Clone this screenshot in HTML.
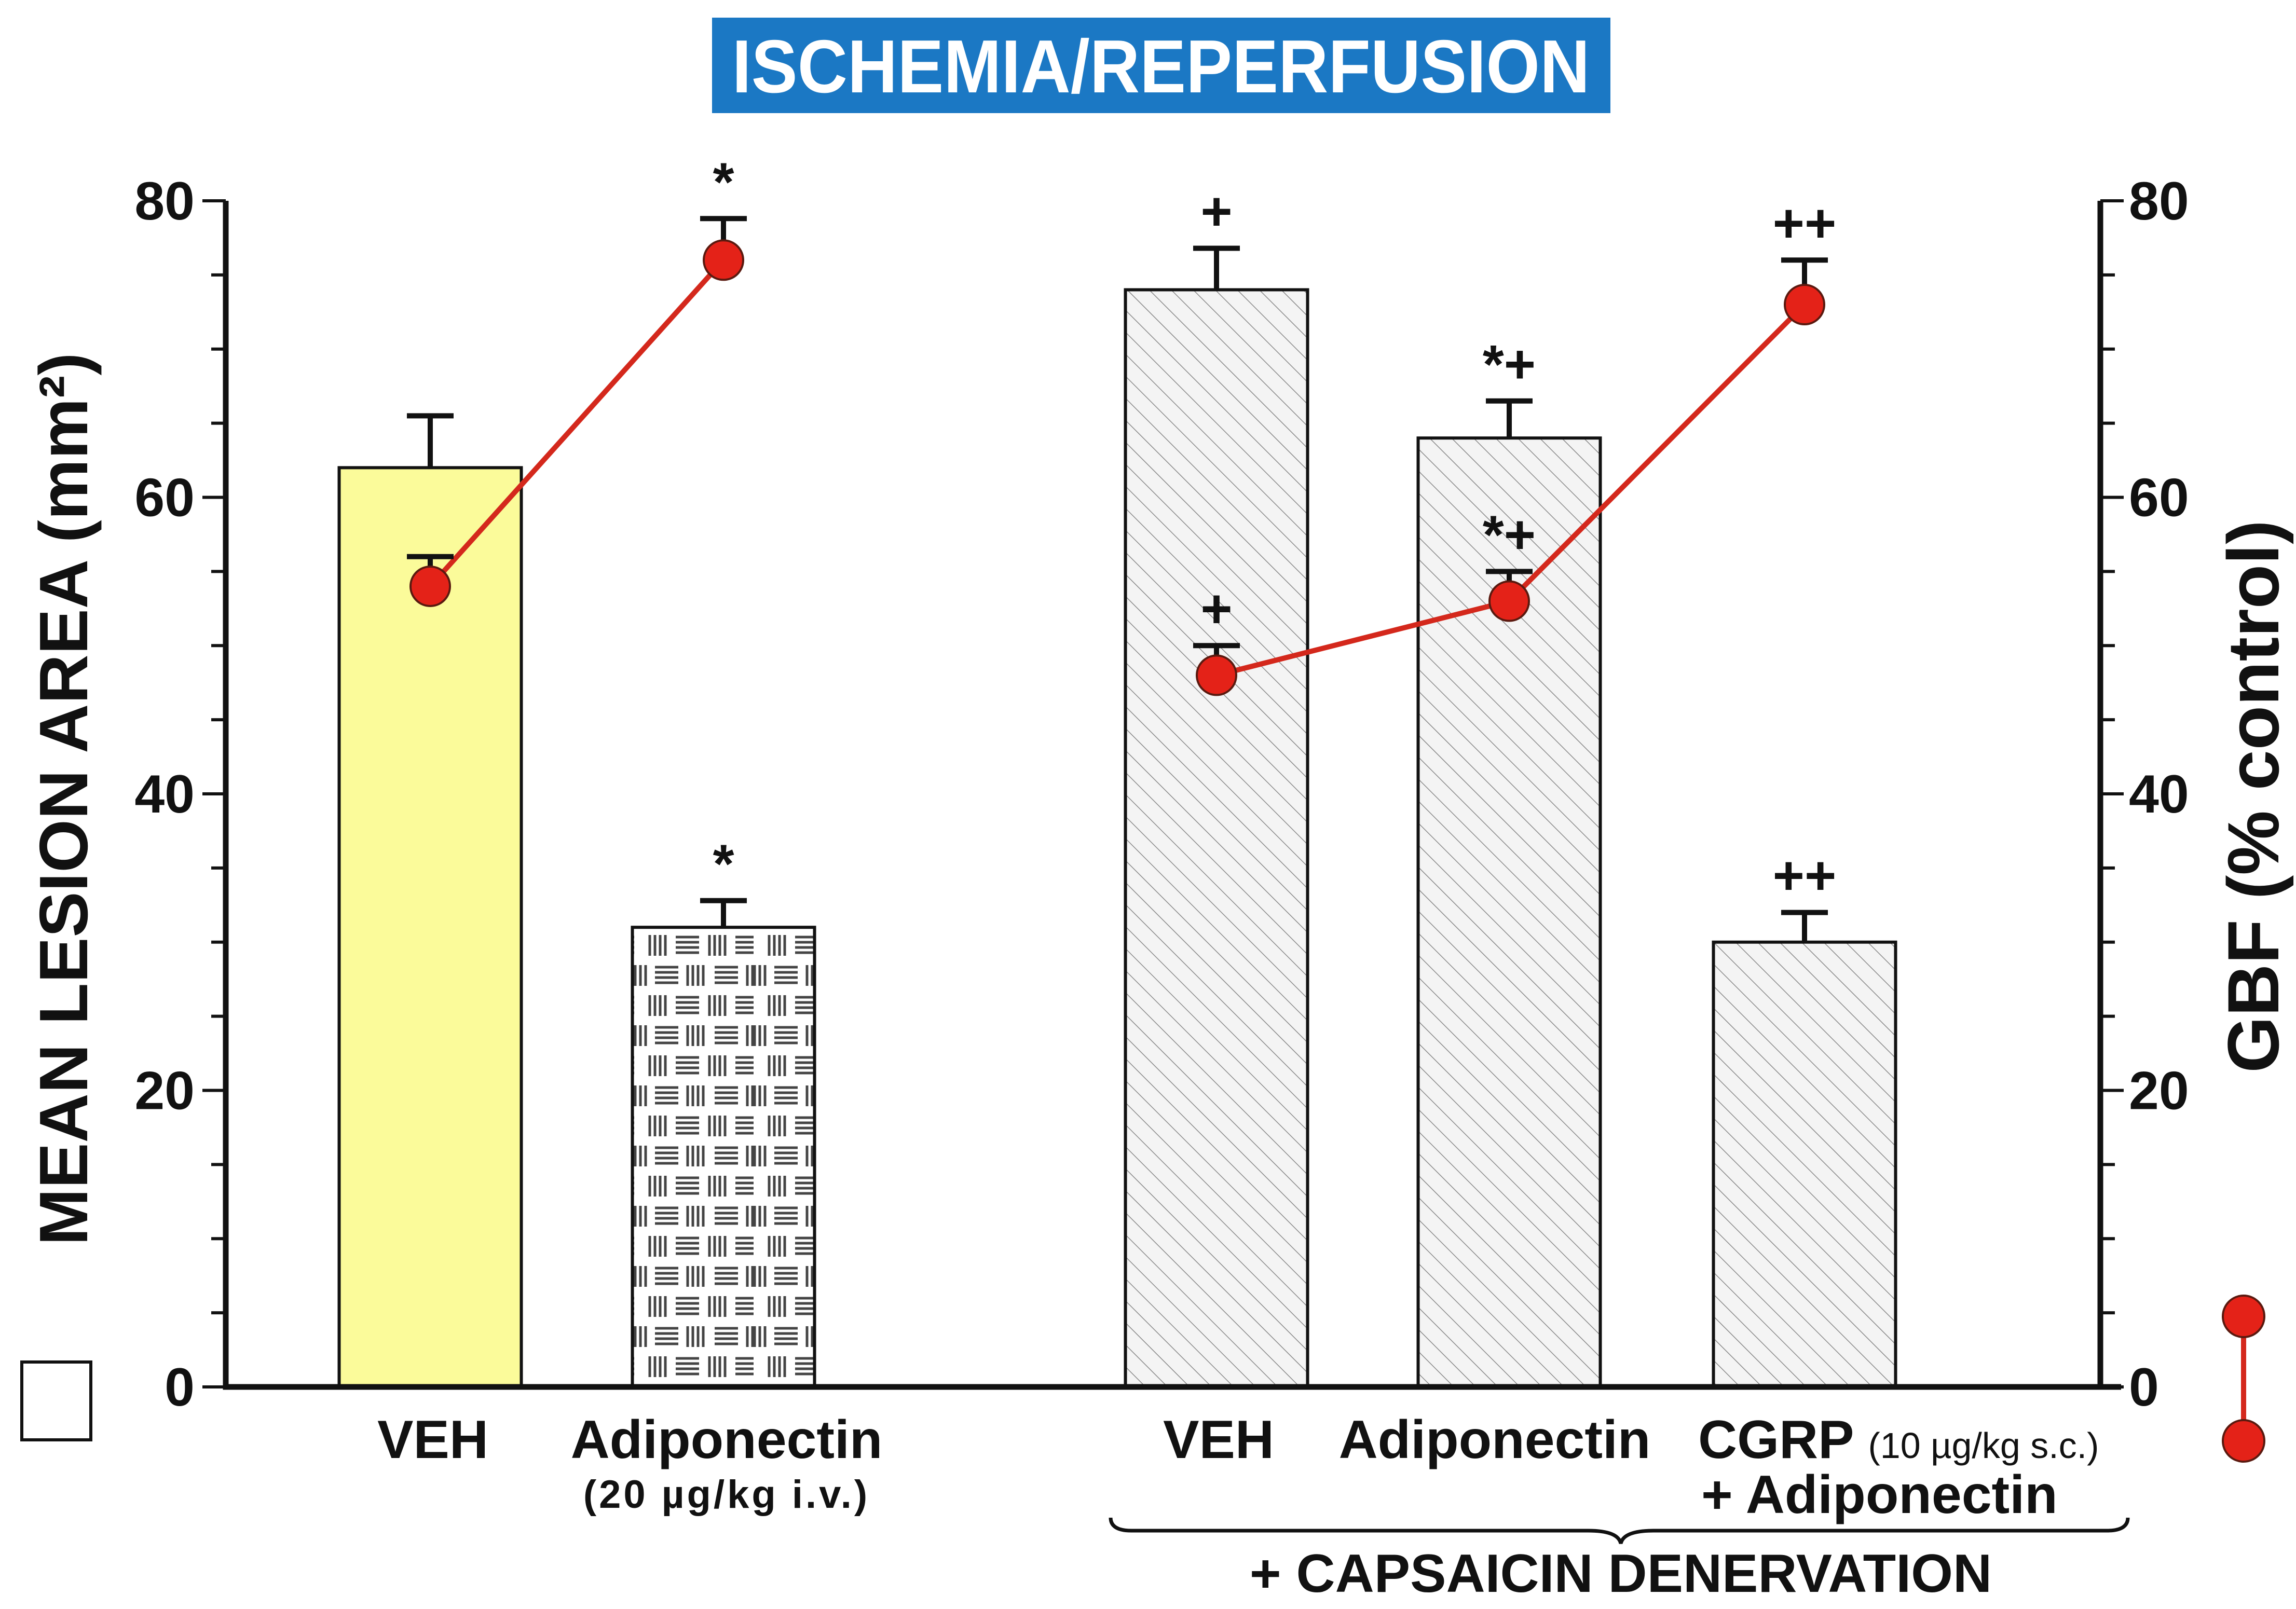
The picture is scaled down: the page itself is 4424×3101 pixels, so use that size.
<!DOCTYPE html>
<html><head><meta charset="utf-8"><style>
html,body{margin:0;padding:0;background:#fff;}
svg{display:block;}
text{font-family:"Liberation Sans",sans-serif;font-weight:bold;fill:#111;}
</style></head><body>
<svg id="chart" width="4424" height="3101" viewBox="0 0 4424 3101" xmlns="http://www.w3.org/2000/svg">
<defs>
<pattern id="diag" patternUnits="userSpaceOnUse" width="30" height="30" patternTransform="rotate(-45)">
<rect width="30" height="30" fill="#f4f4f4"/>
<line x1="0" y1="0" x2="0" y2="30" stroke="#8a8a8a" stroke-width="3"/>
</pattern>
<pattern id="weave" patternUnits="userSpaceOnUse" width="230" height="116" x="1222" y="1790">
<rect width="230" height="116" fill="#fff"/>
<g stroke="#444" stroke-width="5">
<line x1="30" y1="12" x2="30" y2="52"/><line x1="40" y1="12" x2="40" y2="52"/><line x1="50" y1="12" x2="50" y2="52"/><line x1="60" y1="12" x2="60" y2="52"/>
<line x1="80" y1="16" x2="125" y2="16"/><line x1="80" y1="26" x2="125" y2="26"/><line x1="80" y1="36" x2="125" y2="36"/><line x1="80" y1="46" x2="125" y2="46"/>
<line x1="145" y1="12" x2="145" y2="52"/><line x1="155" y1="12" x2="155" y2="52"/><line x1="165" y1="12" x2="165" y2="52"/><line x1="175" y1="12" x2="175" y2="52"/>
<line x1="195" y1="16" x2="230" y2="16"/><line x1="195" y1="26" x2="230" y2="26"/><line x1="195" y1="36" x2="230" y2="36"/><line x1="195" y1="46" x2="230" y2="46"/>
<line x1="2" y1="70" x2="2" y2="110"/><line x1="12" y1="70" x2="12" y2="110"/><line x1="22" y1="70" x2="22" y2="110"/>
<line x1="40" y1="74" x2="85" y2="74"/><line x1="40" y1="84" x2="85" y2="84"/><line x1="40" y1="94" x2="85" y2="94"/><line x1="40" y1="104" x2="85" y2="104"/>
<line x1="103" y1="70" x2="103" y2="110"/><line x1="113" y1="70" x2="113" y2="110"/><line x1="123" y1="70" x2="123" y2="110"/><line x1="133" y1="70" x2="133" y2="110"/>
<line x1="155" y1="74" x2="200" y2="74"/><line x1="155" y1="84" x2="200" y2="84"/><line x1="155" y1="94" x2="200" y2="94"/><line x1="155" y1="104" x2="200" y2="104"/>
<line x1="218" y1="70" x2="218" y2="110"/><line x1="228" y1="70" x2="228" y2="110"/>
</g>
</pattern>
</defs>

<rect x="1372" y="34" width="1731" height="184" fill="#1b78c4"/>
<text x="2237" y="178" text-anchor="middle" font-size="145" style="fill:#fff" transform="translate(2237 0) scale(0.92 1) translate(-2237 0)">ISCHEMIA/REPERFUSION</text>

<g id="bars"></g>
<g id="axes"></g>
<g id="line"></g>

<text transform="translate(168 1540) rotate(-90)" text-anchor="middle" font-size="132">MEAN LESION AREA (mm²)</text>
<text transform="translate(4390 1535) rotate(-90)" text-anchor="middle" font-size="140">GBF (% control)</text>

<g font-size="104">
<text x="834" y="2810" text-anchor="middle">VEH</text>
<text x="1400" y="2810" text-anchor="middle">Adiponectin</text>
<text x="1400" y="2906" text-anchor="middle" font-size="76" letter-spacing="5">(20 µg/kg i.v.)</text>
<text x="2348" y="2810" text-anchor="middle">VEH</text>
<text x="2880" y="2810" text-anchor="middle">Adiponectin</text>
<text x="3272" y="2810">CGRP <tspan font-size="70" font-weight="normal">(10 µg/kg s.c.)</tspan></text>
<text x="3278" y="2916">+ Adiponectin</text>
<text x="3123" y="3068" text-anchor="middle">+ CAPSAICIN DENERVATION</text>
</g>
<path d="M2140 2925 Q2140 2950 2180 2950 L3060 2950 Q3118 2950 3123 2975 Q3128 2950 3186 2950 L4060 2950 Q4100 2950 4100 2925" fill="none" stroke="#111" stroke-width="7"/>

<rect x="42" y="2625" width="133" height="150" fill="#fff" stroke="#111" stroke-width="6"/>
<line x1="4323" y1="2537" x2="4323" y2="2777" stroke="#d4281c" stroke-width="10"/>
<circle cx="4323" cy="2537" r="40" fill="#e42218" stroke="#5a1a10" stroke-width="4"/>
<circle cx="4323" cy="2777" r="40" fill="#e42218" stroke="#5a1a10" stroke-width="4"/>
</svg>
<script>
const barValues=[62,31,74,64,30];
const barErrors=[3.5,1.8,2.8,2.5,2];
const gbfValues=[54,76,48,53,73];
const gbfErrors=[2,2.8,2,2,3];
const barSig=["","*","+","*+","++"];
const gbfSig=["","*","+","*+","++"];
const yTicks=[0,20,40,60,80];
const barCenters=[829,1394,2344,2908,3477];
const NS="http://www.w3.org/2000/svg";
const X0=435,X1=4047,Y0=2673,Y80=387,BW=351;
function y(v){return Y0-(Y0-Y80)*v/80;}
function mk(tag,attrs,parent){const e=document.createElementNS(NS,tag);for(const k in attrs)e.setAttribute(k,attrs[k]);parent.appendChild(e);return e;}
const gb=document.getElementById('bars'),ga=document.getElementById('axes'),gl=document.getElementById('line');
const fills=["#fbfb9a","url(#weave)","url(#diag)","url(#diag)","url(#diag)"];
barValues.forEach((v,i)=>{
  const cx=barCenters[i];
  const r=mk('rect',{x:cx-BW/2,y:y(v),width:BW,height:Y0-y(v),fill:fills[i],stroke:'#111','stroke-width':6},gb);
  
  
  const t=y(v+barErrors[i]);
  const e=mk('path',{d:`M${cx} ${y(v)} L${cx} ${t} M${cx-45} ${t} L${cx+45} ${t}`,stroke:'#111','stroke-width':10,fill:'none'},gb);
  
  
  if(barSig[i]){const s=mk('text',{x:cx,y:t-35,'text-anchor':'middle','font-size':105},gb);s.textContent=barSig[i];
    
    }
});
const ax=mk('path',{d:`M${X0} ${Y80} L${X0} ${Y0} L${X1+40} ${Y0} M${X1} ${Y0} L${X1} ${Y80}`,stroke:'#111','stroke-width':11,fill:'none'},ga);


for(let v=0;v<=80;v+=5){
  const len=v%20===0?45:28;
  mk('line',{x1:X0-len,x2:X0,y1:y(v),y2:y(v),stroke:'#111','stroke-width':6},ga);
  mk('line',{x1:X1,x2:X1+len,y1:y(v),y2:y(v),stroke:'#111','stroke-width':6},ga);
}
yTicks.forEach(v=>{
  const a=mk('text',{x:X0-60,y:y(v)+36,'text-anchor':'end','font-size':104},ga);a.textContent=v;
  
  
  const b=mk('text',{x:X1+55,y:y(v)+36,'font-size':104},ga);b.textContent=v;
  
  
});
function seg(idx,name){
  const pts=idx.map(i=>barCenters[i]+','+y(gbfValues[i])).join(' ');
  const p=mk('polyline',{points:pts,fill:'none',stroke:'#d4281c','stroke-width':10},gl);
  
  
}
seg([0,1],'gbf-line-control');seg([2,3,4],'gbf-line-capsaicin');
gbfValues.forEach((v,i)=>{
  const cx=barCenters[i],t=y(v+gbfErrors[i]);
  const e=mk('path',{d:`M${cx} ${y(v)} L${cx} ${t} M${cx-45} ${t} L${cx+45} ${t}`,stroke:'#111','stroke-width':10,fill:'none'},gl);
  
  
  const c=mk('circle',{cx:cx,cy:y(v),r:38,fill:'#e42218',stroke:'#5a1a10','stroke-width':4},gl);
  
  
  if(gbfSig[i]){const s=mk('text',{x:cx,y:t-35,'text-anchor':'middle','font-size':105},gl);s.textContent=gbfSig[i];
    
    }
});
</script>
</body></html>
